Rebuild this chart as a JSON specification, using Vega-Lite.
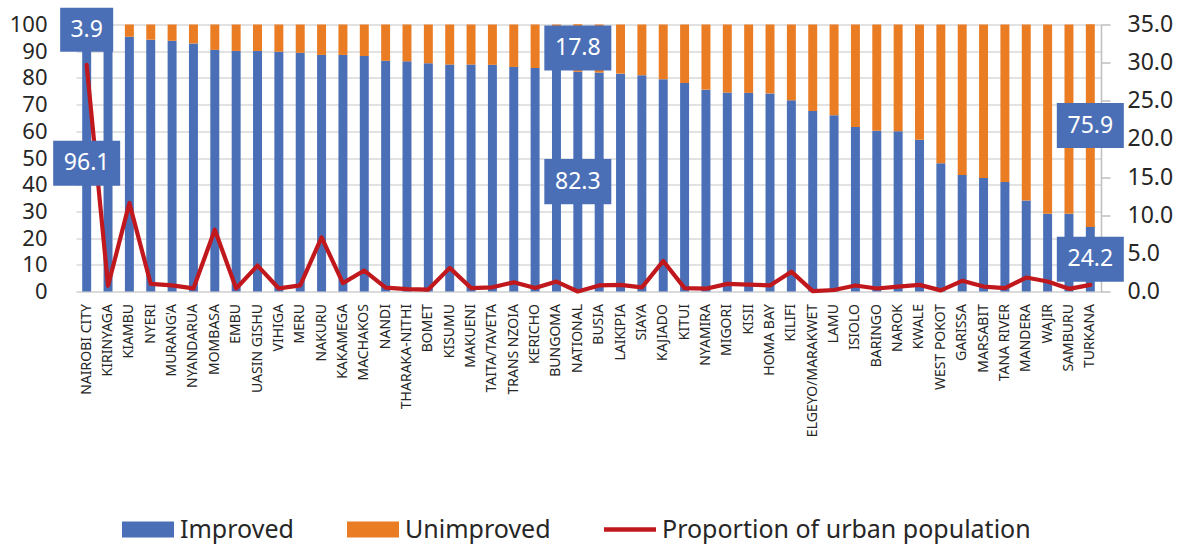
{
  "$schema": "https://vega.github.io/schema/vega-lite/v6.json",
  "autosize": {"type": "none"},
  "width": 1025,
  "height": 267,
  "padding": {"left": 76, "top": 24.5, "right": 89, "bottom": 255.5},
  "background": "white",
  "config": {
    "font": "Noto Sans",
    "view": {"stroke": null},
    "legend": {
      "orient": "none",
      "legendX": 46,
      "legendY": 479,
      "direction": "horizontal",
      "title": null,
      "padding": 0,
      "symbolSize": 2704,
      "labelFontSize": 25,
      "labelFont": "Noto Sans",
      "labelColor": "#262626",
      "labelOffset": 6,
      "columnPadding": 53,
      "labelLimit": 500
    }
  },
  "data": {"values": [
    {"county": "NAIROBI CITY", "Improved": 96.1, "Unimproved": 3.9, "urban": 29.7},
    {"county": "KIRINYAGA", "Improved": 95.8, "Unimproved": 4.2, "urban": 0.75},
    {"county": "KIAMBU", "Improved": 95.4, "Unimproved": 4.6, "urban": 11.6},
    {"county": "NYERI", "Improved": 94.3, "Unimproved": 5.7, "urban": 1.0},
    {"county": "MURANG'A", "Improved": 93.9, "Unimproved": 6.1, "urban": 0.8},
    {"county": "NYANDARUA", "Improved": 92.9, "Unimproved": 7.1, "urban": 0.4},
    {"county": "MOMBASA", "Improved": 90.5, "Unimproved": 9.5, "urban": 8.1},
    {"county": "EMBU", "Improved": 90.1, "Unimproved": 9.9, "urban": 0.4},
    {"county": "UASIN GISHU", "Improved": 90.1, "Unimproved": 9.9, "urban": 3.4},
    {"county": "VIHIGA", "Improved": 89.8, "Unimproved": 10.2, "urban": 0.4},
    {"county": "MERU", "Improved": 89.4, "Unimproved": 10.6, "urban": 0.8},
    {"county": "NAKURU", "Improved": 88.6, "Unimproved": 11.4, "urban": 7.1},
    {"county": "KAKAMEGA", "Improved": 88.6, "Unimproved": 11.4, "urban": 1.1},
    {"county": "MACHAKOS", "Improved": 88.2, "Unimproved": 11.8, "urban": 2.75},
    {"county": "NANDI", "Improved": 86.4, "Unimproved": 13.6, "urban": 0.5},
    {"county": "THARAKA-NITHI", "Improved": 86.2, "Unimproved": 13.8, "urban": 0.3},
    {"county": "BOMET", "Improved": 85.5, "Unimproved": 14.5, "urban": 0.25},
    {"county": "KISUMU", "Improved": 85.0, "Unimproved": 15.0, "urban": 3.1},
    {"county": "MAKUENI", "Improved": 85.0, "Unimproved": 15.0, "urban": 0.45},
    {"county": "TAITA/TAVETA", "Improved": 84.9, "Unimproved": 15.1, "urban": 0.55},
    {"county": "TRANS NZOIA", "Improved": 84.1, "Unimproved": 15.9, "urban": 1.2},
    {"county": "KERICHO", "Improved": 83.7, "Unimproved": 16.3, "urban": 0.45},
    {"county": "BUNGOMA", "Improved": 83.2, "Unimproved": 16.8, "urban": 1.3},
    {"county": "NATIONAL", "Improved": 82.3, "Unimproved": 17.8, "urban": null},
    {"county": "BUSIA", "Improved": 82.0, "Unimproved": 18.0, "urban": 0.8},
    {"county": "LAIKIPIA", "Improved": 81.6, "Unimproved": 18.4, "urban": 0.87},
    {"county": "SIAYA", "Improved": 81.0, "Unimproved": 19.0, "urban": 0.55},
    {"county": "KAJIADO", "Improved": 79.5, "Unimproved": 20.5, "urban": 4.0},
    {"county": "KITUI", "Improved": 78.1, "Unimproved": 21.9, "urban": 0.44},
    {"county": "NYAMIRA", "Improved": 75.6, "Unimproved": 24.4, "urban": 0.37},
    {"county": "MIGORI", "Improved": 74.5, "Unimproved": 25.5, "urban": 1.0},
    {"county": "KISII", "Improved": 74.4, "Unimproved": 25.6, "urban": 0.9},
    {"county": "HOMA BAY", "Improved": 74.2, "Unimproved": 25.8, "urban": 0.8},
    {"county": "KILIFI", "Improved": 71.6, "Unimproved": 28.4, "urban": 2.6},
    {"county": "ELGEYO/MARAKWET", "Improved": 67.6, "Unimproved": 32.4, "urban": 0.05},
    {"county": "LAMU", "Improved": 66.0, "Unimproved": 34.0, "urban": 0.2},
    {"county": "ISIOLO", "Improved": 61.6, "Unimproved": 38.4, "urban": 0.79},
    {"county": "BARINGO", "Improved": 60.2, "Unimproved": 39.8, "urban": 0.39},
    {"county": "NAROK", "Improved": 60.0, "Unimproved": 40.0, "urban": 0.65},
    {"county": "KWALE", "Improved": 56.8, "Unimproved": 43.2, "urban": 0.87},
    {"county": "WEST POKOT", "Improved": 48.0, "Unimproved": 52.0, "urban": 0.15},
    {"county": "GARISSA", "Improved": 43.6, "Unimproved": 56.4, "urban": 1.4},
    {"county": "MARSABIT", "Improved": 42.5, "Unimproved": 57.5, "urban": 0.65},
    {"county": "TANA RIVER", "Improved": 41.0, "Unimproved": 59.0, "urban": 0.44},
    {"county": "MANDERA", "Improved": 34.1, "Unimproved": 65.9, "urban": 1.83},
    {"county": "WAJIR", "Improved": 29.1, "Unimproved": 70.9, "urban": 1.31},
    {"county": "SAMBURU", "Improved": 29.1, "Unimproved": 70.9, "urban": 0.35},
    {"county": "TURKANA", "Improved": 24.2, "Unimproved": 75.9, "urban": 0.87}
  ]},
  "encoding": {
    "x": {
      "field": "county",
      "type": "nominal",
      "sort": null,
      "scale": {"paddingInner": 0.58, "paddingOuter": 0.29},
      "axis": {
        "title": null,
        "labelAngle": 270,
        "labelFontSize": 14,
        "labelFont": "Noto Sans",
        "labelColor": "#262626",
        "labelPadding": 12,
        "ticks": false,
        "domain": true,
        "domainColor": "#D9D9D9",
        "domainWidth": 1.5,
        "labelLimit": 300
      }
    }
  },
  "layer": [
    {
      "transform": [{"fold": ["Improved", "Unimproved"], "as": ["type", "value"]}],
      "mark": {"type": "bar"},
      "encoding": {
        "y": {
          "field": "value",
          "type": "quantitative",
          "stack": "zero",
          "scale": {"domain": [0, 100], "nice": false},
          "axis": {
            "title": null,
            "orient": "left",
            "values": [0, 10, 20, 30, 40, 50, 60, 70, 80, 90, 100],
            "labelFontSize": 22,
            "labelColor": "#262626",
            "labelFont": "Noto Sans",
            "ticks": false,
            "domain": false,
            "labelPadding": 29,
            "grid": true,
            "gridColor": "#D9D9D9",
            "gridWidth": 1.5
          }
        },
        "order": {"field": "type", "type": "nominal", "sort": "ascending"},
        "color": {
          "field": "type",
          "type": "nominal",
          "scale": {
            "domain": ["Improved", "Unimproved", "Proportion of urban population"],
            "range": ["#4A6FB6", "#EA7C24", "#C0181C"]
          },
          "legend": {
            "symbolStrokeWidth": 0,
            "encode": {
              "symbols": {
                "update": {
                  "shape": {"signal": "datum.value === 'Proportion of urban population' ? 'M-1,-0.09H1V0.09H-1Z' : 'M-1,-0.3077H1V0.3077H-1Z'"},
                  "fill": {"scale": "color", "field": "value"},
                  "stroke": {"value": "transparent"},
                  "strokeWidth": {"value": 0},
                  "opacity": {"value": 1}
                }
              }
            }
          }
        }
      }
    },
    {
      "mark": {"type": "line", "strokeWidth": 4.2, "strokeJoin": "round", "strokeCap": "round", "invalid": null},
      "encoding": {
        "y": {
          "field": "urban",
          "type": "quantitative",
          "scale": {"domain": [0, 35], "nice": false},
          "axis": {
            "title": null,
            "orient": "right",
            "values": [0, 5, 10, 15, 20, 25, 30, 35],
            "format": ".1f",
            "labelFontSize": 23,
            "labelColor": "#262626",
            "labelFont": "Noto Sans",
            "domain": true,
            "domainColor": "#BFBFBF",
            "domainWidth": 1.5,
            "ticks": true,
            "tickColor": "#BFBFBF",
            "tickWidth": 1.5,
            "tickSize": 9,
            "labelPadding": 17,
            "grid": false
          }
        },
        "color": {"datum": "Proportion of urban population"}
      }
    },
    {
      "transform": [
        {"filter": "indexof(['NAIROBI CITY','NATIONAL','TURKANA'], datum.county) >= 0"},
        {"fold": ["Improved", "Unimproved"], "as": ["type", "value"]},
        {"stack": "value", "groupby": ["county"], "sort": [{"field": "type", "order": "ascending"}], "as": ["v0", "v1"]},
        {"calculate": "(datum.v0 + datum.v1) / 2", "as": "mid"}
      ],
      "layer": [
        {
          "mark": {"type": "point", "filled": true, "fill": "#4A6FB6", "opacity": 1, "strokeWidth": 0},
          "encoding": {
            "y": {"field": "mid", "type": "quantitative", "scale": {"domain": [0, 100], "nice": false}, "axis": null},
            "shape": {"condition": {"test": "datum.value < 10", "value": "M-1,-0.83H1V0.83H-1Z"}, "value": "M-1,-0.672H1V0.672H-1Z"},
            "size": {"condition": {"test": "datum.value < 10", "value": 2809}, "value": 4489}
          }
        },
        {
          "mark": {"type": "text", "color": "white", "fontSize": 23, "font": "Noto Sans", "align": "center", "baseline": "middle"},
          "encoding": {
            "y": {"field": "mid", "type": "quantitative", "scale": {"domain": [0, 100], "nice": false}, "axis": null},
            "text": {"field": "value", "type": "quantitative", "format": ".1f"}
          }
        }
      ]
    }
  ],
  "resolve": {"scale": {"y": "independent"}}
}
